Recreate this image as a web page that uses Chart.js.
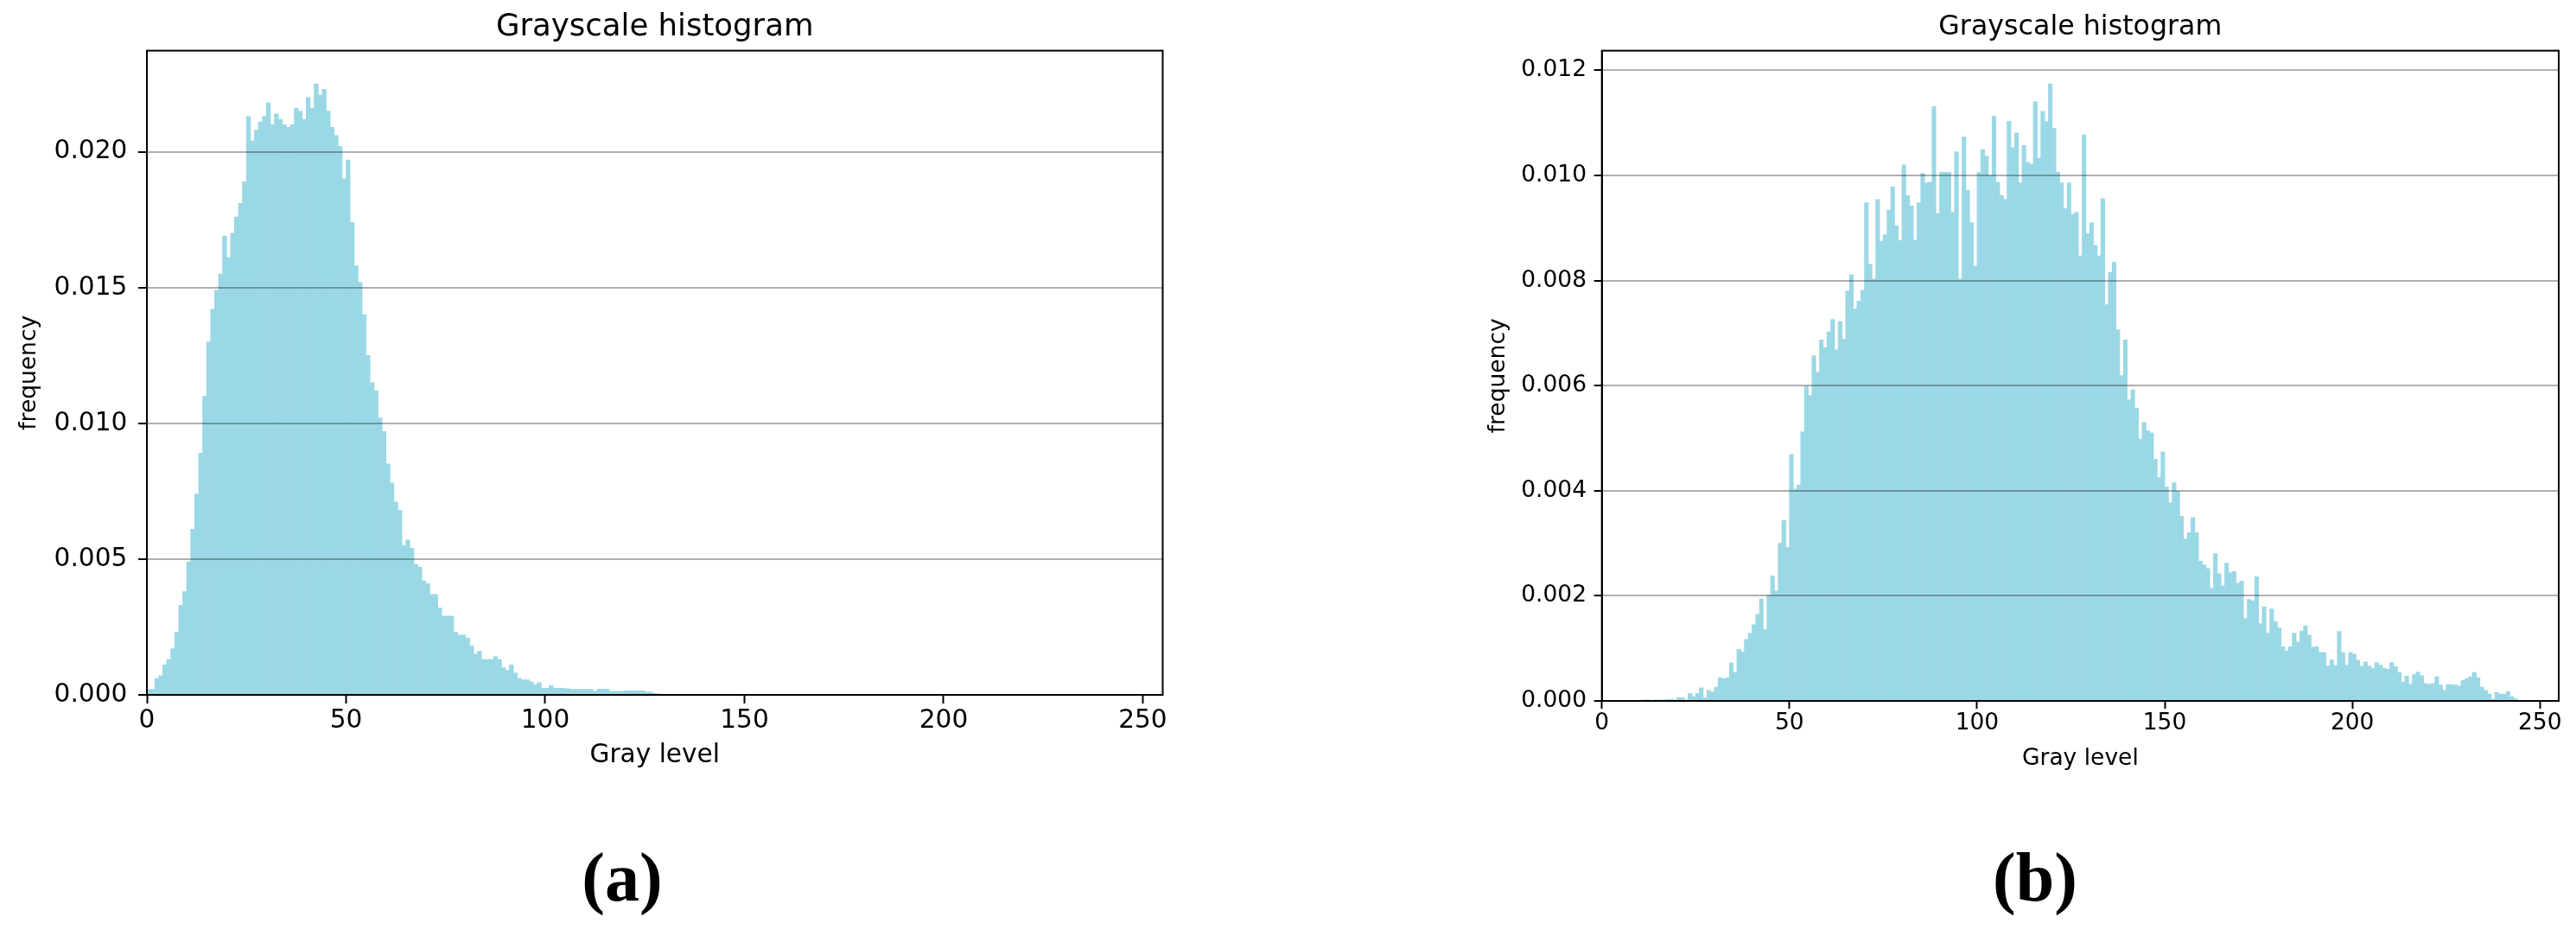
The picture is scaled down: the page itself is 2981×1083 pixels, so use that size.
<!DOCTYPE html>
<html>
<head>
<meta charset="utf-8">
<script src="https://cdn.jsdelivr.net/npm/chart.js@4.4.1/dist/chart.umd.min.js"></script>
<style>
  body { margin: 0; background: #fff; width: 2981px; height: 1083px; position: relative; overflow: hidden; }
  canvas { position: absolute; top: 0; }
  #histA { left: 0; }
  #histB { left: 1690px; }
  .tag { position: absolute; top: 975px; width: 200px; text-align: center;
         font-family: 'Liberation Serif', serif; font-weight: bold; font-size: 80px; line-height: 80px; }
</style>
</head>
<body>
<canvas id="histA" width="1380" height="894"></canvas>
<canvas id="histB" width="1291" height="897"></canvas>
<div class="tag" style="left:620px">(a)</div>
<div class="tag" style="left:2255px">(b)</div>
<script>
// gray levels 0..255, one bin each
const grayLevels = Array.from({length: 256}, (_, i) => i);

// (a) normalized histogram
const freqA = [
  0.0002, 0.0002, 0.0006, 0.0007, 0.0011, 0.0013, 0.0017, 0.0023, 0.0033, 0.0038, 0.0049, 0.0061, 0.0074, 0.0089, 0.0110, 0.0130,
  0.0142, 0.0149, 0.0155, 0.0169, 0.0161, 0.0170, 0.0176, 0.0181, 0.0189, 0.0213, 0.0204, 0.0208, 0.0211, 0.0213, 0.0218, 0.0210,
  0.0214, 0.0212, 0.0210, 0.0209, 0.0210, 0.0216, 0.0215, 0.0212, 0.0220, 0.0216, 0.0225, 0.0221, 0.0223, 0.0215, 0.0209, 0.0206,
  0.0202, 0.0190, 0.0197, 0.0174, 0.0158, 0.0152, 0.0140, 0.0125, 0.0115, 0.0112, 0.0102, 0.0097, 0.0085, 0.0078, 0.0071, 0.0068,
  0.0055, 0.0057, 0.0054, 0.0048, 0.0047, 0.0042, 0.0041, 0.0037, 0.0037, 0.0032, 0.0029, 0.0029, 0.0029, 0.0023, 0.0022, 0.0022,
  0.0021, 0.0018, 0.0015, 0.0016, 0.0013, 0.0013, 0.0013, 0.0014, 0.0013, 0.0010, 0.0009, 0.0011, 0.0008, 0.0006, 0.00055, 0.00055,
  0.00048, 0.00037, 0.00045, 0.00024, 0.00024, 0.00034, 0.00024, 0.00024, 0.00024, 0.00023, 0.0002, 0.0002, 0.0002, 0.0002, 0.0002, 0.0002,
  0.00013, 0.00021, 0.00021, 0.00021, 0.00013, 0.00013, 0.00013, 0.00013, 0.00015, 0.00015, 0.00015, 0.00015, 0.00015, 0.0001, 0.0001, 0.00005,
  0.00002, 0, 0, 0, 0, 0, 0, 0, 0, 0, 0, 0, 0, 0, 0, 0,
  0, 0, 0, 0, 0, 0, 0, 0, 0, 0, 0, 0, 0, 0, 0, 0,
  0, 0, 0, 0, 0, 0, 0, 0, 0, 0, 0, 0, 0, 0, 0, 0,
  0, 0, 0, 0, 0, 0, 0, 0, 0, 0, 0, 0, 0, 0, 0, 0,
  0, 0, 0, 0, 0, 0, 0, 0, 0, 0, 0, 0, 0, 0, 0, 0,
  0, 0, 0, 0, 0, 0, 0, 0, 0, 0, 0, 0, 0, 0, 0, 0,
  0, 0, 0, 0, 0, 0, 0, 0, 0, 0, 0, 0, 0, 0, 0, 0,
  0, 0, 0, 0, 0, 0, 0, 0, 0, 0, 0, 0, 0, 0, 0, 0
];

// (b) normalized histogram
const freqB = [
  0, 0, 0, 0, 0, 0, 0, 0, 0, 0, 0, 0.00002, 0.00001, 0, 0.00001, 0.00002,
  0.00002, 0.00003, 0.00003, 0.00002, 0.00006, 0.00006, 0.00002, 0.00014, 0.00008, 0.00014, 0.00025, 0.00006, 0.0002, 0.00017, 0.00026, 0.00044,
  0.00042, 0.00044, 0.00072, 0.00054, 0.00098, 0.00093, 0.00117, 0.00129, 0.00145, 0.00165, 0.00194, 0.00136, 0.00201, 0.00238, 0.00209, 0.0030,
  0.00343, 0.00292, 0.00469, 0.00403, 0.00411, 0.00512, 0.00599, 0.00581, 0.00657, 0.00625, 0.00687, 0.00672, 0.00702, 0.00726, 0.00668, 0.00722,
  0.00688, 0.0078, 0.00811, 0.00746, 0.00761, 0.00781, 0.00948, 0.00831, 0.00803, 0.00954, 0.00875, 0.00887, 0.00934, 0.00978, 0.00904, 0.00876,
  0.0102, 0.00962, 0.00942, 0.00877, 0.00948, 0.01004, 0.00986, 0.00987, 0.01131, 0.00928, 0.01006, 0.01006, 0.01006, 0.0093, 0.01045, 0.00803,
  0.01073, 0.00972, 0.0091, 0.00827, 0.01006, 0.01049, 0.01037, 0.0100, 0.01113, 0.00987, 0.00962, 0.00954, 0.01103, 0.01053, 0.01081, 0.00986,
  0.01057, 0.01025, 0.01021, 0.0114, 0.01033, 0.01122, 0.01102, 0.01174, 0.0109, 0.01006, 0.00986, 0.00937, 0.00986, 0.00926, 0.0093, 0.00847,
  0.01077, 0.00889, 0.0091, 0.00867, 0.00847, 0.00956, 0.00754, 0.00815, 0.00835, 0.00706, 0.00619, 0.00687, 0.00573, 0.00592, 0.00557, 0.00498,
  0.0053, 0.00514, 0.0051, 0.0046, 0.00425, 0.00474, 0.00407, 0.00377, 0.00415, 0.00399, 0.00351, 0.00308, 0.0032, 0.00349, 0.0032, 0.00266,
  0.00259, 0.00252, 0.00214, 0.0028, 0.00242, 0.00219, 0.00262, 0.00244, 0.00246, 0.00224, 0.00228, 0.00157, 0.00193, 0.0019, 0.00236, 0.00147,
  0.00179, 0.00129, 0.00175, 0.00151, 0.00139, 0.00103, 0.00095, 0.00103, 0.00129, 0.00112, 0.00133, 0.00143, 0.00125, 0.00102, 0.00103, 0.00092,
  0.00092, 0.00066, 0.00078, 0.00067, 0.00132, 0.00092, 0.00068, 0.00092, 0.00089, 0.00077, 0.00066, 0.00074, 0.00066, 0.00062, 0.00073, 0.00068,
  0.00062, 0.0006, 0.00073, 0.00065, 0.00054, 0.00036, 0.00047, 0.00032, 0.0005, 0.00055, 0.00048, 0.00033, 0.00032, 0.00033, 0.00046, 0.0003,
  0.0002, 0.00031, 0.00031, 0.0003, 0.00028, 0.00039, 0.00042, 0.00046, 0.00054, 0.00044, 0.00026, 0.0002, 0.00013, 0.00003, 0.00016, 0.00013,
  0.00013, 0.00018, 0.00008, 0.00004, 0, 0, 0, 0, 0, 0, 0, 0, 0, 0, 0, 0
];

const xTicks = [0, 50, 100, 150, 200, 250];
const yTicksA = [0, 0.005, 0.010, 0.015, 0.020];
const yTicksB = [0, 0.002, 0.004, 0.006, 0.008, 0.010, 0.012];

Chart.defaults.font.family = "'DejaVu Sans', sans-serif";
Chart.defaults.color = '#000';

// black box around the plot area, like matplotlib spines
const frame = {
  id: 'frame',
  afterDraw(chart) {
    const {ctx, chartArea: a} = chart;
    ctx.save();
    ctx.strokeStyle = '#000';
    ctx.lineWidth = 2;
    ctx.strokeRect(a.left, a.top, a.right - a.left, a.bottom - a.top);
    ctx.restore();
  }
};

function histConfig(freq, yTicks, yMax, s) {
  return {
    type: 'bar',
    data: {
      datasets: [{
        data: grayLevels.map((g, i) => ({x: g + 0.5, y: freq[i]})),
        backgroundColor: '#9bd8e5',
        borderWidth: 0,
        barPercentage: 1,
        categoryPercentage: 1,
        inflateAmount: 0.4
      }]
    },
    options: {
      responsive: false,
      animation: false,
      devicePixelRatio: 1,
      layout: { padding: { left: 0, right: s.padRight, top: 0, bottom: 0 } },
      plugins: {
        legend: { display: false },
        tooltip: { enabled: false },
        title: {
          display: true,
          fullSize: false, // centre over the plot area, not the canvas
          text: 'Grayscale histogram',
          color: '#000',
          font: { size: s.title, weight: 'normal' },
          padding: { top: s.titleTop, bottom: s.titleBottom }
        }
      },
      scales: {
        x: {
          type: 'linear',
          min: 0,
          max: 255,
          offset: false,
          afterBuildTicks: (sc) => { sc.ticks = xTicks.map(v => ({value: v})); },
          afterFit: (sc) => { sc.height = s.xHeight; },
          grid: { drawOnChartArea: false, offset: false, tickColor: '#000', tickLength: s.tickLen, tickWidth: 2 },
          border: { color: '#000', width: 2, z: 1 },
          ticks: { font: { size: s.tick }, padding: s.xPad, maxRotation: 0, callback: (v) => String(v) },
          title: { display: true, text: 'Gray level', font: { size: s.tick }, padding: { top: 0, bottom: s.xTitlePad } }
        },
        y: {
          min: 0,
          max: yMax,
          afterBuildTicks: (sc) => { sc.ticks = yTicks.map(v => ({value: v})); },
          afterFit: (sc) => { sc.width = s.yWidth; },
          grid: { color: 'rgba(0,0,0,0.31)', lineWidth: 2, z: 1, tickColor: '#000', tickLength: s.tickLen, tickWidth: 2 },
          border: { color: '#000', width: 2, z: 1 },
          ticks: { font: { size: s.tick }, padding: s.yPad, callback: (v) => v.toFixed(3) },
          title: { display: true, text: 'frequency', font: { size: s.yTitle }, padding: { top: s.yTitlePad, bottom: 0 } }
        }
      }
    },
    plugins: [frame]
  };
}

var chartA = new Chart(document.getElementById('histA'), histConfig(freqA, yTicksA, 0.02373, {
  title: 35.5, titleTop: 10, titleBottom: 6,
  tick: 29.6, tickLen: 10, yPad: 12.7, xPad: 3,
  yTitle: 26.5, yTitlePad: 18, xTitlePad: 2,
  yWidth: 170, xHeight: 90, padRight: 34.5
}));

var chartB = new Chart(document.getElementById('histB'), histConfig(freqB, yTicksB, 0.012375, {
  title: 31.7, titleTop: 13, titleBottom: 7.6,
  tick: 26.5, tickLen: 9, yPad: 8.7, xPad: 1,
  yTitle: 26.5, yTitlePad: 28, xTitlePad: 3,
  yWidth: 163.7, xHeight: 86, padRight: 20
}));
</script>
</body>
</html>
